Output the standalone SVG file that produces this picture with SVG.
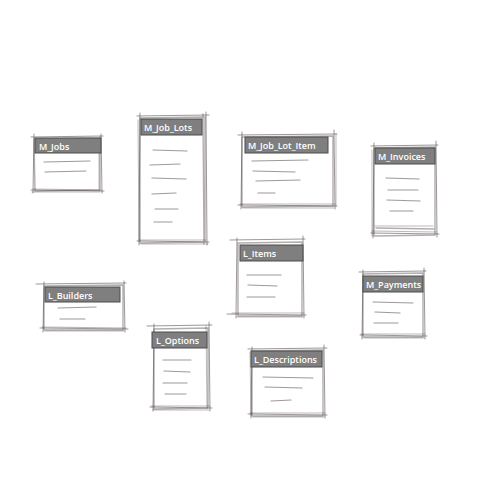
<svg xmlns="http://www.w3.org/2000/svg" width="480" height="480" viewBox="0 0 480 480">
<style>
.sk{fill:none;stroke:#4a4046;stroke-opacity:.55;stroke-width:1;stroke-linecap:round}
.sk2{fill:none;stroke:#3e3439;stroke-opacity:.4;stroke-width:1.4;stroke-linecap:round}
.sk3{fill:none;stroke:#3e3439;stroke-opacity:.35;stroke-width:1;stroke-linecap:round}
.hd{fill:#7f7f7f;stroke:#4d4d4d;stroke-width:1}
.ln{fill:none;stroke:#5e5559;stroke-opacity:.6;stroke-width:1.2;stroke-linecap:round}
.tx{font-family:"Open Sans","DejaVu Sans",sans-serif;font-weight:600;font-size:9px;fill:#ffffff}
</style>
<rect width="480" height="480" fill="#ffffff"/>
<g id="connectors"></g>
<g id="M_Jobs">
<path class="sk" d="M31 137 L103 136 M101 134 L102 193 M104 191 L31 190 M33 193 L34 134"/>
<path class="sk2" d="M34 139 L100 138 M100 137 L100 190 M100 190 L35 191 M35 191 L34 139"/>
<path class="sk3" d="M33 189 L101 190 M32 192 L100 192 M99 140 L99 189"/>
<rect class="hd" x="35" y="138" width="66" height="15"/>
<text class="tx" x="39" y="149.5">M_Jobs</text>
<path class="ln" d="M44 162 L90 161 M45 172 L86 171"/>
</g>
<g id="M_Job_Lots">
<path class="sk" d="M137 116 L209 115 M206 112 L207 245 M209 242 L137 241 M139 245 L140 113"/>
<path class="sk2" d="M140 118 L205 117 M205 117 L205 242 M205 242 L140 243 M140 243 L140 118 M203 114 L204 244"/>
<path class="sk3" d="M139 240 L206 240 M141 244 L208 244 M138 120 L139 240"/>
<rect class="hd" x="141" y="119" width="61" height="16"/>
<text class="tx" x="144" y="131">M_Job_Lots</text>
<path class="ln" d="M153 150 L187 151 M150 165 L180 164 M152 178 L186 179 M152 194 L176 193 M155 209 L178 209 M154 222 L172 222"/>
</g>
<g id="M_Job_Lot_Item">
<path class="sk" d="M238 135 L337 134 M334 130 L335 209 M337 206 L238 205 M241 209 L242 132"/>
<path class="sk2" d="M242 137 L333 136 M333 136 L333 206 M333 206 L242 207 M242 207 L242 137"/>
<path class="sk3" d="M240 204 L335 204 M243 208 L334 208 M336 134 L336 206"/>
<rect class="hd" x="245" y="137" width="83" height="16"/>
<text class="tx" x="248" y="149">M_Job_Lot_Item</text>
<path class="ln" d="M252 161 L308 160 M253 171 L295 172 M256 181 L300 180 M258 193 L275 193"/>
</g>
<g id="M_Invoices">
<path class="sk" d="M371 146 L438 145 M436 141 L437 237 M439 234 L371 233 M373 238 L374 143"/>
<path class="sk2" d="M374 148 L435 147 M435 147 L435 235 M435 235 L374 236 M374 236 L374 148 M376 228 L434 229"/>
<path class="sk3" d="M372 231 L436 232 M372 150 L372 236 M375 226 L433 226"/>
<rect class="hd" x="375" y="148" width="60" height="16"/>
<text class="tx" x="378" y="160">M_Invoices</text>
<path class="ln" d="M386 178 L419 179 M388 190 L418 190 M387 200 L420 201 M390 211 L413 211"/>
</g>
<g id="L_Items">
<path class="sk" d="M230 240 L305 239 M303 236 L304 318 M306 315 L227 314 M236 318 L237 238"/>
<path class="sk2" d="M238 243 L302 242 M302 242 L302 316 M302 316 L238 316 M238 316 L238 243"/>
<path class="sk3" d="M232 313 L304 313 M237 317 L303 317"/>
<rect class="hd" x="240" y="245" width="63" height="16"/>
<text class="tx" x="243" y="257">L_Items</text>
<path class="ln" d="M247 275 L281 275 M248 285 L277 286 M247 297 L275 297"/>
</g>
<g id="L_Builders">
<path class="sk" d="M36 284 L126 283 M124 281 L125 332 M128 329 L40 328 M43 332 L44 282"/>
<path class="sk2" d="M44 286 L123 285 M123 285 L123 330 M123 330 L44 330 M44 330 L44 286"/>
<path class="sk3" d="M42 327 L126 328 M45 331 L124 331"/>
<rect class="hd" x="45" y="287" width="75" height="15"/>
<text class="tx" x="48" y="298.5">L_Builders</text>
<path class="ln" d="M58 308 L96 307 M60 319 L85 319"/>
</g>
<g id="M_Payments">
<path class="sk" d="M359 272 L426 271 M424 268 L425 339 M427 336 L360 335 M362 339 L363 270"/>
<path class="sk2" d="M363 274 L423 273 M423 273 L423 337 M423 337 L363 337 M363 337 L363 274"/>
<path class="sk3" d="M361 334 L425 334 M364 338 L424 338"/>
<rect class="hd" x="363" y="276" width="60" height="16"/>
<text class="tx" x="366" y="288">M_Payments</text>
<path class="ln" d="M373 302 L413 303 M375 312 L400 313 M374 323 L398 323"/>
</g>
<g id="L_Options">
<path class="sk" d="M147 326 L212 325 M209 322 L210 411 M212 408 L150 407 M153 411 L154 324"/>
<path class="sk2" d="M154 329 L208 328 M208 328 L208 408 M208 408 L154 409 M154 409 L154 329"/>
<path class="sk3" d="M151 406 L210 406 M153 410 L209 410 M206 326 L207 408"/>
<rect class="hd" x="152" y="332" width="55" height="16"/>
<text class="tx" x="156" y="344">L_Options</text>
<path class="ln" d="M163 360 L191 360 M164 371 L190 372 M163 383 L187 383 M165 394 L186 394"/>
</g>
<g id="L_Descriptions">
<path class="sk" d="M248 349 L327 348 M324 345 L325 418 M327 415 L248 414 M251 418 L252 347"/>
<path class="sk2" d="M252 351 L323 350 M323 350 L323 416 M323 416 L252 416 M252 416 L252 351"/>
<path class="sk3" d="M250 413 L325 413 M253 417 L324 417 M250 352 L251 416"/>
<rect class="hd" x="251" y="351" width="71" height="16"/>
<text class="tx" x="254" y="363">L_Descriptions</text>
<path class="ln" d="M263 377 L313 378 M265 387 L302 388 M271 401 L291 400"/>
</g>
</svg>
